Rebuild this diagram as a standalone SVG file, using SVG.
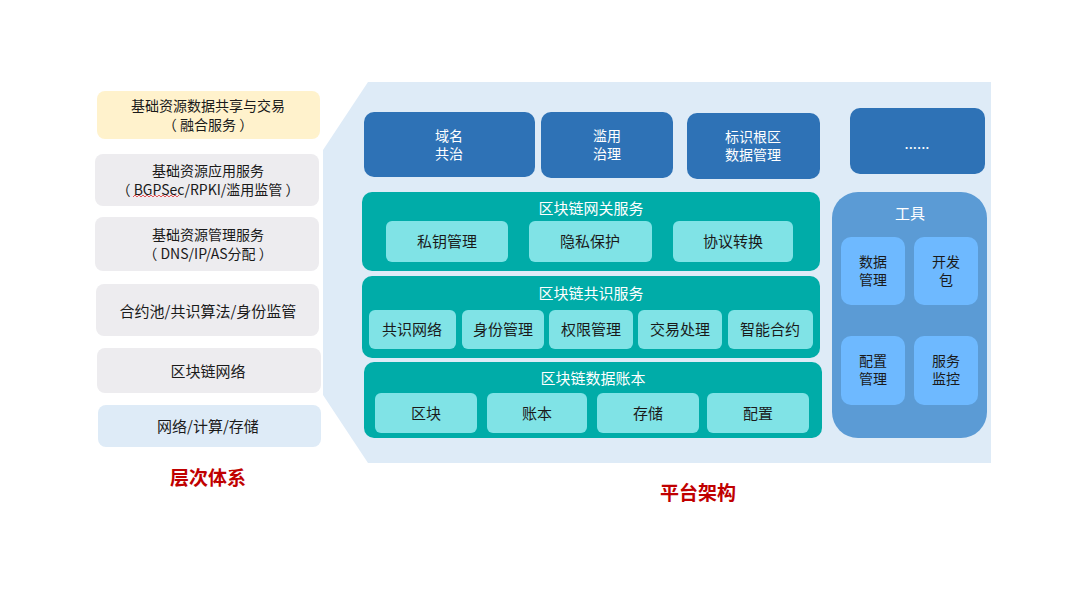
<svg xmlns="http://www.w3.org/2000/svg" width="1080" height="607" viewBox="0 0 1080 607">
<style>
text{font-family:"Microsoft YaHei","Noto Sans CJK SC","Noto Sans",sans-serif;font-size:15px;text-anchor:middle;dominant-baseline:central}
.t2{font-size:14px}
.d{fill:#1a1a1a}
.w{fill:#ffffff}
.red{fill:#C00000;font-size:19px;font-weight:bold}
.gray{fill:#EDECEF}
.top{fill:#2E72B6}
.teal{fill:#00ACA8}
.sub{fill:#80E3E6}
.tool{fill:#5B9BD5}
.tsub{fill:#6EB9FF}
</style>
<rect width="1080" height="607" fill="#ffffff"/>
<polygon points="368,82 991,82 991,463 368,463 323,395 323,150" fill="#DEEBF7"/>

<g id="layers">
<g id="L1"><rect x="97" y="91" width="223" height="48" rx="8" fill="#FFF2CC"/><text x="208" y="105" class="d t2">基础资源数据共享与交易</text><text x="208" y="124" class="d t2">（ 融合服务 ）</text></g>
<g id="L2"><rect x="95" y="154" width="224" height="52" rx="8" class="gray"/><text x="208" y="170" class="d t2">基础资源应用服务</text><text x="208" y="189" class="d t2">（ BGPSec/RPKI/滥用监管 ）</text><path d="M133,197 l2,-2 l2,2 l2,-2 l2,2 l2,-2 l2,2 l2,-2 l2,2 l2,-2 l2,2 l2,-2 l2,2 l2,-2 l2,2 l2,-2 l2,2 l2,-2 l2,2 l2,-2 l2,2 l2,-2 l2,2 l2,-2" fill="none" stroke="#E03030" stroke-width="0.8"/></g>
<g id="L3"><rect x="95" y="217" width="224" height="54" rx="8" class="gray"/><text x="208" y="234" class="d t2">基础资源管理服务</text><text x="208" y="253" class="d t2">（ DNS/IP/AS分配 ）</text></g>
<g id="L4"><rect x="96" y="284" width="223" height="52" rx="8" class="gray"/><text x="208" y="310" class="d">合约池/共识算法/身份监管</text></g>
<g id="L5"><rect x="97" y="348" width="224" height="45" rx="8" class="gray"/><text x="208" y="370" class="d">区块链网络</text></g>
<g id="L6"><rect x="98" y="405" width="223" height="42" rx="8" fill="#DEEBF7"/><text x="208" y="425" class="d">网络/计算/存储</text></g>
<text x="208" y="476" class="red">层次体系</text>
</g>

<g id="apps">
<g id="A1"><rect x="364" y="112" width="171" height="65" rx="10" class="top"/><text x="449" y="135" class="w t2">域名</text><text x="449" y="153" class="w t2">共治</text></g>
<g id="A2"><rect x="541" y="112" width="132" height="66" rx="10" class="top"/><text x="607" y="135" class="w t2">滥用</text><text x="607" y="153" class="w t2">治理</text></g>
<g id="A3"><rect x="687" y="113" width="133" height="66" rx="10" class="top"/><text x="753" y="136" class="w t2">标识根区</text><text x="753" y="154" class="w t2">数据管理</text></g>
<g id="A4"><rect x="850" y="108" width="135" height="66" rx="10" class="top"/><text x="917" y="142" class="w">......</text></g>
</g>

<g id="gateway">
<rect x="362" y="192" width="458" height="79" rx="10" class="teal"/>
<text x="591" y="207" class="w">区块链网关服务</text>
<rect x="386" y="221" width="122" height="41" rx="6" class="sub"/><text x="447" y="240" class="d">私钥管理</text>
<rect x="529" y="221" width="123" height="41" rx="6" class="sub"/><text x="590" y="240" class="d">隐私保护</text>
<rect x="673" y="221" width="120" height="41" rx="6" class="sub"/><text x="733" y="240" class="d">协议转换</text>
</g>

<g id="consensus">
<rect x="362" y="276" width="458" height="82" rx="10" class="teal"/>
<text x="591" y="292" class="w">区块链共识服务</text>
<rect x="369" y="310" width="87" height="39" rx="6" class="sub"/><text x="412" y="328" class="d">共识网络</text>
<rect x="462" y="310" width="82" height="39" rx="6" class="sub"/><text x="503" y="328" class="d">身份管理</text>
<rect x="549" y="310" width="84" height="39" rx="6" class="sub"/><text x="591" y="328" class="d">权限管理</text>
<rect x="638" y="310" width="84" height="39" rx="6" class="sub"/><text x="680" y="328" class="d">交易处理</text>
<rect x="728" y="310" width="85" height="39" rx="6" class="sub"/><text x="770" y="328" class="d">智能合约</text>
</g>

<g id="ledger">
<rect x="364" y="362" width="458" height="76" rx="10" class="teal"/>
<text x="593" y="377" class="w">区块链数据账本</text>
<rect x="375" y="393" width="102" height="40" rx="6" class="sub"/><text x="426" y="412" class="d">区块</text>
<rect x="487" y="393" width="100" height="40" rx="6" class="sub"/><text x="537" y="412" class="d">账本</text>
<rect x="597" y="393" width="102" height="40" rx="6" class="sub"/><text x="648" y="412" class="d">存储</text>
<rect x="707" y="393" width="102" height="40" rx="6" class="sub"/><text x="758" y="412" class="d">配置</text>
</g>

<g id="tools">
<rect x="832" y="192" width="155" height="246" rx="26" class="tool"/>
<text x="910" y="212" class="w">工具</text>
<rect x="841" y="237" width="64" height="68" rx="10" class="tsub"/><text x="873" y="261" class="d t2">数据</text><text x="873" y="279" class="d t2">管理</text>
<rect x="914" y="237" width="64" height="68" rx="10" class="tsub"/><text x="946" y="261" class="d t2">开发</text><text x="946" y="279" class="d t2">包</text>
<rect x="841" y="336" width="64" height="69" rx="10" class="tsub"/><text x="873" y="360" class="d t2">配置</text><text x="873" y="378" class="d t2">管理</text>
<rect x="914" y="336" width="64" height="69" rx="10" class="tsub"/><text x="946" y="360" class="d t2">服务</text><text x="946" y="378" class="d t2">监控</text>
</g>

<text x="698" y="491" class="red">平台架构</text>
<g id="connectors"/>
</svg>
